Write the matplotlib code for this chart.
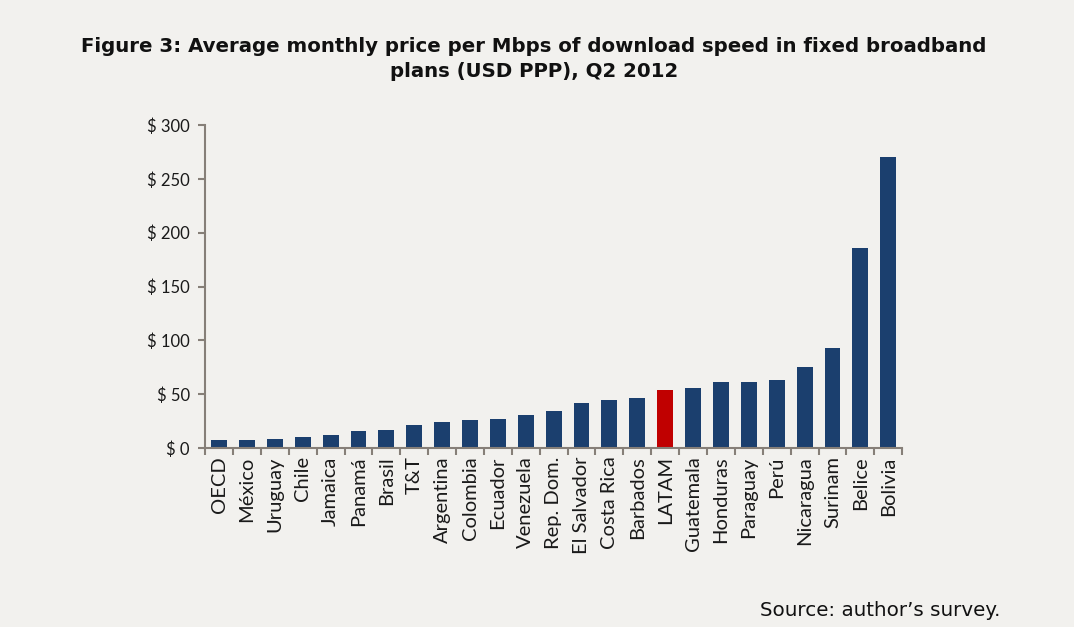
import matplotlib
matplotlib.use("Agg")
from matplotlib import pyplot as plt
import numpy as np

# data
countries = ["OECD", "México", "Uruguay", "Chile", "Jamaica", "Panamá", "Brasil", "T&T",
             "Argentina", "Colombia", "Ecuador", "Venezuela", "Rep. Dom.", "El Salvador",
             "Costa Rica", "Barbados", "LATAM", "Guatemala", "Honduras", "Paraguay", "Perú",
             "Nicaragua", "Surinam", "Belice", "Bolivia"]
price = [7.2, 7.8, 8.1, 10.3, 12.2, 15.6, 16.9, 21.8, 24.3, 26.2, 27.1, 30.6, 34.4, 42.2,
         44.7, 46.5, 54.3, 55.6, 60.9, 60.9, 63.4, 75.6, 93.1, 185.5, 270.0]
highlight = "LATAM"
yticks = [0, 50, 100, 150, 200, 250, 300]

bg = "#f2f1ee"
blue = "#1b3f6e"
red = "#c00000"
axis_col = "#867f78"

fig = plt.figure(figsize=(10.74, 6.27), dpi=100, facecolor=bg)
ax = fig.add_axes([0.191, 0.2855, 0.649, 0.515], facecolor=bg)

x = np.arange(len(countries))
colors = [red if c == highlight else blue for c in countries]
ax.bar(x, price, width=0.57, color=colors, zorder=2)

ax.set_xlim(-0.5, len(countries) - 0.5)
ax.set_ylim(0, 300)
ax.set_yticks(yticks)
ax.set_yticklabels([f"$ {v}" for v in yticks], fontsize=12, family="Lato", color="#1a1a1a")
ax.set_xticks(x)
ax.set_xticklabels(countries, rotation=90, fontsize=14.5, family="Lato", color="#1a1a1a")
ax.set_xticks(np.arange(-0.5, len(countries)), minor=True)
ax.tick_params(axis="x", which="major", length=0, pad=6)
ax.tick_params(axis="x", which="minor", length=5, width=1.5, color=axis_col, direction="out")
ax.tick_params(axis="y", length=5, width=1.5, color=axis_col, direction="out", pad=6)

for s in ["top", "right"]:
    ax.spines[s].set_visible(False)
for s in ["left", "bottom"]:
    ax.spines[s].set_color(axis_col)
    ax.spines[s].set_linewidth(1.5)

fig.text(0.497, 0.906, "Figure 3: Average monthly price per Mbps of download speed in fixed broadband\nplans (USD PPP), Q2 2012",
         ha="center", va="center", fontsize=14.2, fontweight="bold", family="DejaVu Sans",
         color="#111111", linespacing=1.35)
fig.text(0.931, 0.027, "Source: author\u2019s survey.", ha="right", va="center",
         fontsize=14.3, family="DejaVu Sans", color="#111111")

fig.savefig("out.png", dpi=100, facecolor=bg)
